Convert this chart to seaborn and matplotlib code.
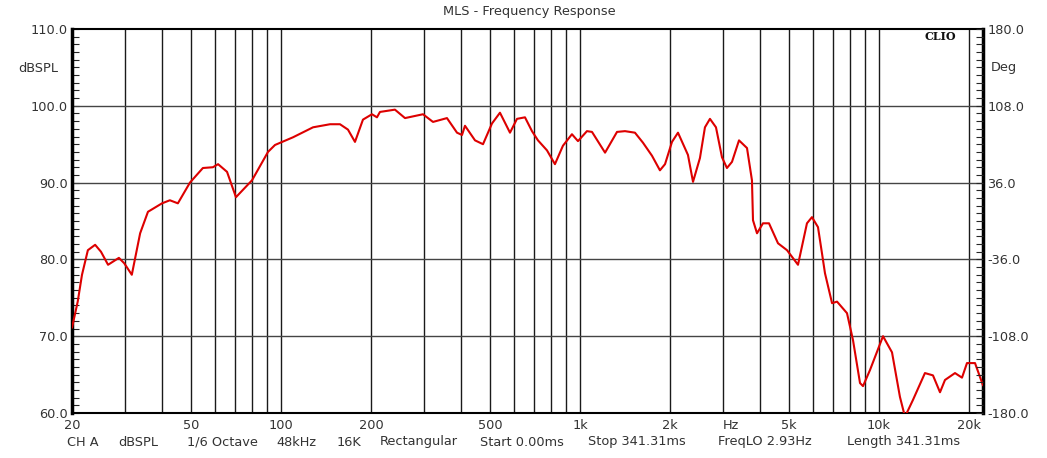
import matplotlib
matplotlib.use("Agg")
import matplotlib.pyplot as plt
import seaborn as sns
import pandas as pd

# Frequency response (Hz, dBSPL)
freq = [20, 20.9, 21.6, 22.6, 23.9, 25.0, 26.4, 28.7, 29.9, 31.7, 33.8, 35.9,
        40.0, 42.5, 45.2, 49.6, 54.8, 59.2, 61.6, 66.0, 70.7, 80.0, 90.5, 95.5,
        109.7, 128, 145.9, 157.5, 167.5, 176.8, 188.0, 201.5, 209.4, 214.3,
        240.5, 259.9, 298.5, 322.4, 359, 387.9, 403.1, 412.5, 445.6, 473.9,
        507.8, 540, 583.3, 615.6, 654.7, 691, 723.6, 775.5, 824.6, 877, 940,
        984.7, 1055, 1097, 1213, 1330, 1414, 1527, 1624, 1741, 1851, 1925,
        2031, 2127, 2297, 2388, 2519, 2618, 2721, 2850, 2985, 3101, 3224,
        3403, 3619, 3760, 3790, 3909, 4093, 4287, 4595, 4925, 5360, 5743,
        5969, 6252, 6447, 6598, 6967, 7240, 7817, 8186, 8641, 8843, 9333,
        10315, 11055, 11752, 12216, 12991, 14247, 15156, 15999, 16626, 17958,
        18954, 19693, 20951, 22280]
spl = [71.1, 74.5, 78.0, 81.2, 81.9, 81.0, 79.3, 80.2, 79.5, 78.0, 83.4, 86.2,
       87.3, 87.7, 87.3, 90.0, 91.9, 92.0, 92.4, 91.4, 88.1, 90.3, 94.0, 94.9,
       95.9, 97.2, 97.6, 97.6, 96.9, 95.3, 98.2, 98.9, 98.5, 99.2,
       99.5, 98.4, 98.9, 97.9, 98.4, 96.5, 96.2, 97.4, 95.5, 95.0,
       97.7, 99.1, 96.5, 98.3, 98.5, 96.7, 95.5, 94.2, 92.4, 94.8, 96.3,
       95.4, 96.7, 96.6, 93.9, 96.6, 96.7, 96.5, 95.2, 93.5, 91.6, 92.4,
       95.3, 96.5, 93.6, 90.1, 93.2, 97.2, 98.3, 97.2, 93.3, 91.9, 92.7,
       95.5, 94.5, 90.3, 85.1, 83.4, 84.7, 84.7, 82.1, 81.2, 79.3, 84.7,
       85.5, 84.2, 80.8, 78.2, 74.3, 74.5, 73.0, 69.5, 63.9, 63.5, 65.6,
       70.0, 67.9, 62.1, 59.5, 61.7, 65.2, 64.9, 62.7, 64.3, 65.2,
       64.6, 66.5, 66.5, 63.6]

grid_freqs = [30, 40, 50, 60, 70, 80, 90, 100, 200, 300, 400, 500, 600, 700,
              800, 900, 1000, 2000, 3000, 4000, 5000, 6000, 7000, 8000, 9000,
              10000, 20000]
label_freqs = [20, 50, 100, 200, 500, 1000, 2000, 3200, 5000, 10000, 20000]
label_text = ["20", "50", "100", "200", "500", "1k", "2k", "Hz", "5k", "10k", "20k"]

db_ticks = [60, 70, 80, 90, 100, 110]
deg_ticks = [-180, -108, -36, 36, 108, 180]

footer = ["CH A", "dBSPL", "1/6 Octave", "48kHz", "16K", "Rectangular",
          "Start 0.00ms", "Stop 341.31ms", "FreqLO 2.93Hz", "Length 341.31ms"]
footer_x = [67, 118, 187, 276, 337, 380, 480, 588, 718, 847]

df = pd.DataFrame({"freq": freq, "spl": spl})

sns.set_style("white")
plt.rcParams["font.family"] = ["DejaVu Sans"]
fs = 9.3
txt_col = "#333333"

W, H = 1047, 458
fig = plt.figure(figsize=(W / 100, H / 100), dpi=100)
ax = fig.add_axes([72 / W, 1 - 413 / H, (983 - 72) / W, (413 - 29) / H])

# grid lines
for f in grid_freqs:
    ax.axvline(f, color="#1a1a1a", lw=1.0, zorder=1)
for d in [70, 80, 90, 100]:
    ax.axhline(d, color="#444444", lw=1.0, zorder=1)

sns.lineplot(data=df, x="freq", y="spl", ax=ax, color="#dd0000", lw=1.5,
             zorder=3, legend=False)

ax.set_xscale("log")
ax.set_xlim(20, 22280)
ax.set_ylim(60, 110)
ax.set_xlabel("")
ax.set_ylabel("")

ax.set_xticks(label_freqs)
ax.set_xticklabels(label_text, fontsize=fs, color=txt_col)
ax.xaxis.set_minor_locator(matplotlib.ticker.NullLocator())
ax.tick_params(axis="x", length=0, pad=4)

ax.set_yticks(db_ticks)
ax.set_yticklabels([f"{v:.1f}" for v in db_ticks], fontsize=fs, color=txt_col)
ax.set_yticks(range(60, 111), minor=True)
ax.tick_params(axis="y", which="both", direction="in", length=5, width=0.8,
               pad=3, left=True)

for side, lw in [("left", 2.5), ("right", 2.5), ("top", 1.5), ("bottom", 1.5)]:
    ax.spines[side].set_visible(True)
    ax.spines[side].set_color("#000000")
    ax.spines[side].set_linewidth(lw)

# phase axis on the right
ax2 = ax.twinx()
ax2.set_ylim(-180, 180)
ax2.set_yticks(deg_ticks)
ax2.set_yticklabels([f"{v:.1f}" for v in deg_ticks], fontsize=fs, color=txt_col)
ax2.set_yticks([-180 + 7.2 * i for i in range(51)], minor=True)
ax2.tick_params(axis="y", which="both", direction="in", length=5, width=0.8,
                pad=3, right=True)
for s in ax2.spines.values():
    s.set_visible(False)

# text
fig.text(529 / W, 1 - 12 / H, "MLS - Frequency Response", ha="center",
         va="center", fontsize=fs, color=txt_col)
fig.text(38 / W, 1 - 68 / H, "dBSPL", ha="center", va="center", fontsize=fs,
         color=txt_col)
fig.text(1004 / W, 1 - 68 / H, "Deg", ha="center", va="center", fontsize=fs,
         color=txt_col)
fig.text(940 / W, 1 - 37 / H, "CLIO", ha="center", va="center", fontsize=8,
         fontweight="bold", family="DejaVu Serif", color="#111111")
for txt, x in zip(footer, footer_x):
    fig.text(x / W, 1 - 442 / H, txt, ha="left", va="center", fontsize=fs,
             color=txt_col)

plt.savefig("out.png", dpi=100)
